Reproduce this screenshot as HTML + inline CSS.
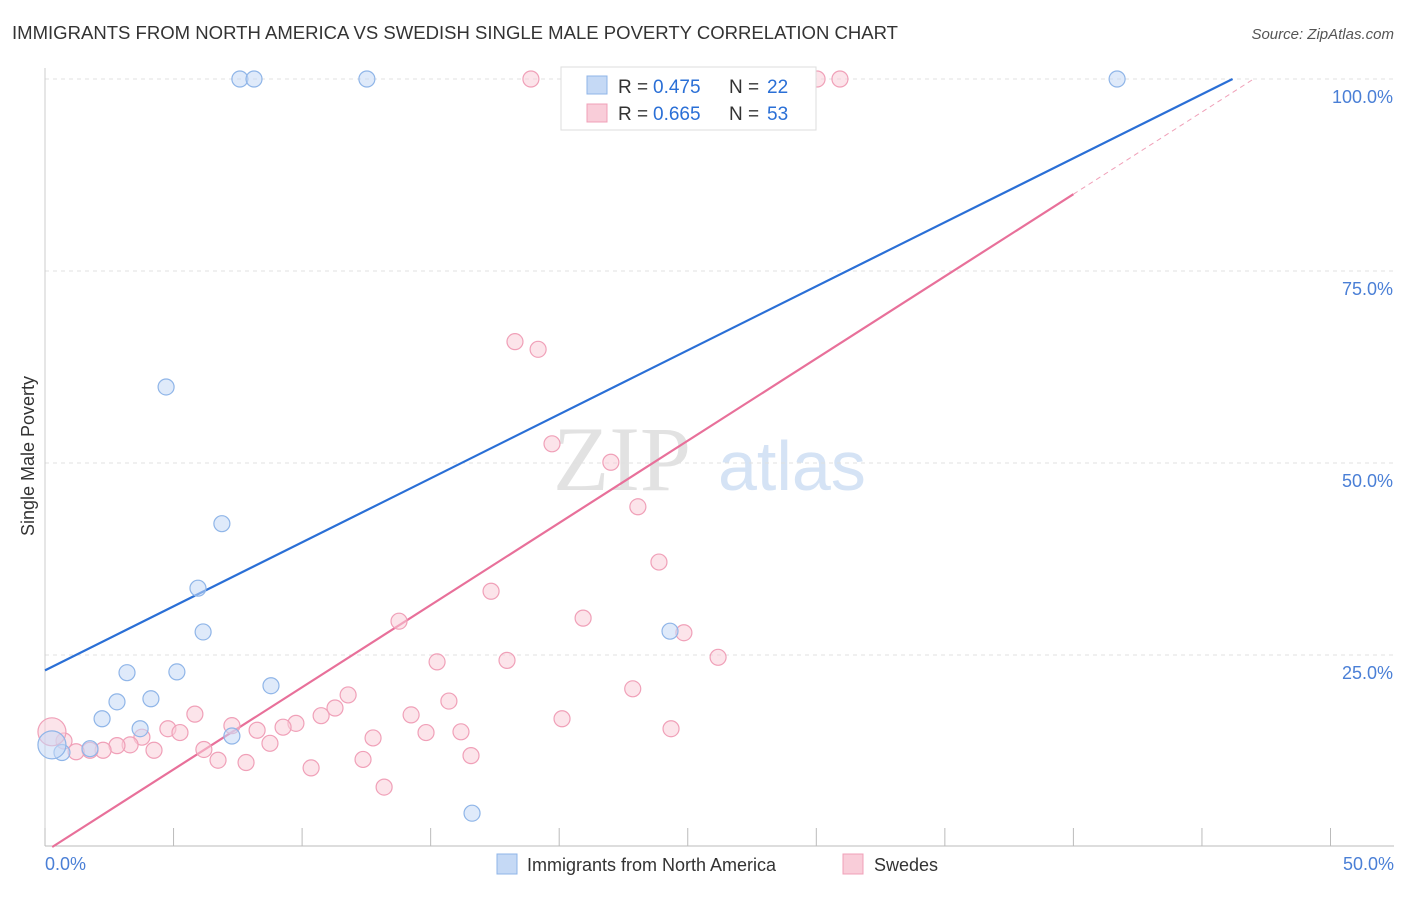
<!DOCTYPE html>
<html><head><meta charset="utf-8"><style>
body{margin:0;background:#fff;font-family:"Liberation Sans",sans-serif;}
</style></head><body>
<svg width="1406" height="892" xmlns="http://www.w3.org/2000/svg" font-family="Liberation Sans, sans-serif">
<text x="12" y="39" font-size="18" fill="#333" textLength="886" lengthAdjust="spacingAndGlyphs">IMMIGRANTS FROM NORTH AMERICA VS SWEDISH SINGLE MALE POVERTY CORRELATION CHART</text>
<text x="1394" y="39" font-size="15" fill="#555" font-style="italic" text-anchor="end">Source: ZipAtlas.com</text>
<text x="34" y="456" font-size="18" fill="#333" text-anchor="middle" transform="rotate(-90 34 456)">Single Male Poverty</text>
<text x="553" y="490" font-size="92" fill="#e2e2e2" font-family="Liberation Serif, serif">ZIP</text>
<text x="718" y="490" font-size="70" fill="#d5e3f5">atlas</text>
<g id="grid"></g><g id="axes"></g><g id="lines"></g><g id="pts"></g>
<g>
<rect x="561" y="67" width="255" height="63" fill="#fff" stroke="#ddd"/>
<rect x="587" y="76" width="20" height="18" fill="#c5d9f5" stroke="#8fb5e8"/>
<rect x="587" y="104" width="20" height="18" fill="#f9cdd9" stroke="#f0a0b8"/>
<text x="618" y="93" font-size="19" fill="#333">R =</text><text x="653" y="93" font-size="19" fill="#2a6fd6">0.475</text>
<text x="729" y="93" font-size="19" fill="#333">N =</text><text x="767" y="93" font-size="19" fill="#2a6fd6">22</text>
<text x="618" y="120" font-size="19" fill="#333">R =</text><text x="653" y="120" font-size="19" fill="#2a6fd6">0.665</text>
<text x="729" y="120" font-size="19" fill="#333">N =</text><text x="767" y="120" font-size="19" fill="#2a6fd6">53</text>
</g>
<g>
<rect x="497" y="854" width="20" height="20" fill="#c5d9f5" stroke="#8fb5e8"/>
<text x="527" y="871" font-size="18" fill="#333">Immigrants from North America</text>
<rect x="843" y="854" width="20" height="20" fill="#f9cdd9" stroke="#f0a0b8"/>
<text x="874" y="871" font-size="18" fill="#333">Swedes</text>
</g>
</svg>
<script>
const yTicks=[25,50,75,100];
const xTickLabels=["0.0%","50.0%"];
const blueX=[7.58,8.13,12.52,41.70,4.71,6.88,5.95,6.15,3.19,5.13,8.79,2.80,4.12,2.22,3.70,7.27,24.31,16.61,0.66,1.75,0.27];
const blueY=[100,100,100,100,59.9,42.1,33.7,28.0,22.7,22.8,21.0,18.9,19.3,16.7,15.4,14.45,28.1,4.4,12.3,12.8,13.3];
const pinkX=[18.90,30.03,30.92,27.93,18.28,19.18,19.72,22.01,23.06,23.88,17.35,20.93,13.77,24.85,26.18,15.25,17.97,22.86,11.79,15.71,11.28,5.83,10.74,14.24,20.11,9.76,7.27,9.26,8.25,4.78,5.25,14.82,16.18,24.35,12.76,3.77,8.75,3.31,2.80,2.26,4.24,6.18,1.75,1.21,0.74,6.73,7.82,10.35,12.37,16.57,13.19,0.27];
const pinkY=[100,100,100,100,65.8,64.8,52.5,50.1,44.3,37.1,33.3,29.8,29.4,27.9,24.7,24.1,24.3,20.6,19.8,19.0,18.1,17.3,17.1,17.2,16.7,16.1,15.8,15.6,15.2,15.4,14.9,14.9,15.0,15.4,14.2,14.3,13.5,13.3,13.2,12.6,12.6,12.7,12.6,12.4,13.8,11.3,11.0,10.3,11.4,11.9,7.8,15.0];
const blueFit=[23.0,1.667];
const pinkFit=[-0.6,2.14];
const NS="http://www.w3.org/2000/svg";
const X=v=>45+v*25.71, Y=v=>847-v*7.68;
function mk(t,a,p){const e=document.createElementNS(NS,t);for(const k in a)e.setAttribute(k,a[k]);document.getElementById(p).appendChild(e);return e;}
yTicks.forEach(t=>{
 const l=mk('line',{x1:45,x2:1394,y1:Y(t),y2:Y(t),stroke:'#e0e0e0','stroke-dasharray':'4 4'},'grid');
 
 
 const tx=mk('text',{x:1393,y:Y(t)+24,'font-size':18,fill:'#4a7fd6','text-anchor':'end'},'grid');tx.textContent=t.toFixed(1)+'%';
 
 
});
mk('line',{x1:45,x2:1394,y1:846,y2:846,stroke:'#bbb'},'axes');
mk('line',{x1:45,x2:45,y1:68,y2:846,stroke:'#ccc'},'axes');
for(let i=0;i<=10;i++){const t=mk('line',{x1:X(i*5),x2:X(i*5),y1:828,y2:846,stroke:'#bbb'},'axes');
 
 }
[[0,'start',45],[50,'end',1394]].forEach((d,i)=>{const t=mk('text',{x:d[2],y:870,'font-size':18,fill:'#4a7fd6','text-anchor':d[1]},'axes');t.textContent=xTickLabels[i];
 
 });
const bx2=(100-blueFit[0])/blueFit[1];
const bl=mk('line',{x1:X(0),y1:Y(blueFit[0]),x2:X(bx2),y2:Y(100),stroke:'#2a6fd6','stroke-width':2.2},'lines');


const px0=(0-pinkFit[0])/pinkFit[1], px1=40, px2=(100-pinkFit[0])/pinkFit[1];
const pl=mk('line',{x1:X(px0),y1:Y(0),x2:X(px1),y2:Y(pinkFit[0]+pinkFit[1]*px1),stroke:'#e8709a','stroke-width':2.2},'lines');


const pd=mk('line',{x1:X(px1),y1:Y(pinkFit[0]+pinkFit[1]*px1),x2:X(px2),y2:Y(100),stroke:'#f0a0b8','stroke-width':1,'stroke-dasharray':'5 4'},'lines');


function pts(xs,ys,fill,stroke,name){xs.forEach((x,i)=>{const big=(x<0.5);const c=mk('circle',{cx:X(x),cy:Y(ys[i]),r:big?14:8,fill:fill,'fill-opacity':0.55,stroke:stroke,'stroke-width':1.2},'pts');
 
 });}
pts(pinkX,pinkY,'#f9cdd9','#f0a0b8','swedes-point');
pts(blueX,blueY,'#c5d9f5','#8fb5e8','immigrants-point');
</script>
</body></html>
